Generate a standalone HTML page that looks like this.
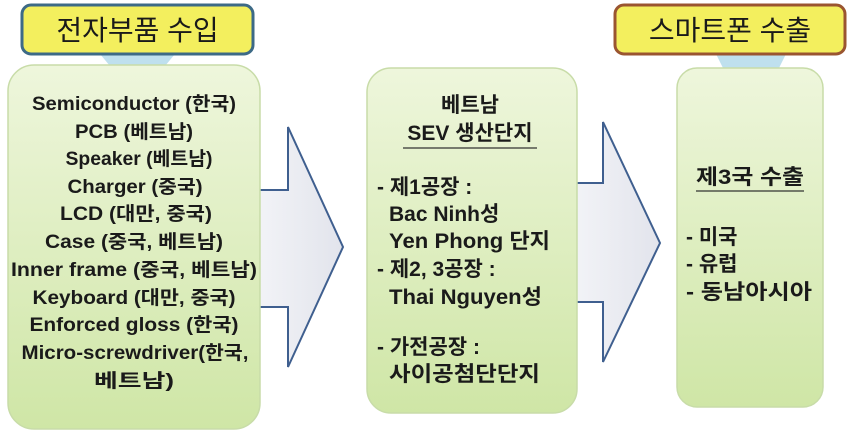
<!DOCTYPE html>
<html><head><meta charset="utf-8"><style>
html,body{margin:0;padding:0;background:#fff;width:857px;height:437px;overflow:hidden}
svg{display:block}
text{font-family:"Liberation Sans","Noto Sans CJK KR","NanumGothic",sans-serif;fill:#1a1a1a}
.b{font-weight:bold;font-size:19px}
.m{font-weight:bold;font-size:21px}
</style></head><body>
<svg width="857" height="437" viewBox="0 0 857 437">
<defs>
<linearGradient id="g" x1="0" y1="0" x2="0" y2="1">
<stop offset="0" stop-color="#eef6dc"/><stop offset="1" stop-color="#cfe6a6"/></linearGradient>
<linearGradient id="a" x1="0" y1="0" x2="1" y2="0">
<stop offset="0" stop-color="#f2f3f7"/><stop offset="1" stop-color="#e2e4ec"/></linearGradient>
</defs>
<polygon points="100,54 175,54 165,66 110,66" fill="#bfe0ee"/>
<polygon points="716,54 786,54 778,70 724,70" fill="#bfe0ee"/>
<polygon points="258,190 288,190 288,127 343,247 288,367 288,307 258,307" fill="url(#a)" stroke="#3f5f8f" stroke-width="2"/>
<polygon points="575,183 603,183 603,122 660,243 603,362 603,302 575,302" fill="url(#a)" stroke="#3f5f8f" stroke-width="2"/>
<rect x="8" y="65" width="252" height="364" rx="26" fill="url(#g)" stroke="#c8dca8" stroke-width="1.5"/>
<rect x="367" y="68" width="210" height="345" rx="24" fill="url(#g)" stroke="#c8dca8" stroke-width="1.5"/>
<rect x="677" y="68" width="146" height="339" rx="20" fill="url(#g)" stroke="#c8dca8" stroke-width="1.5"/>
<rect x="22" y="5" width="231" height="49" rx="9" fill="#f3ef5e" stroke="#3d6a86" stroke-width="3"/>
<text x="137.5" y="40" font-size="28" text-anchor="middle">전자부품 수입</text>
<rect x="615" y="5" width="230" height="49" rx="9" fill="#f3ef5e" stroke="#9a5530" stroke-width="3"/>
<text x="730" y="40" font-size="28" text-anchor="middle">스마트폰 수출</text>
<g text-anchor="middle">
<text class="b" x="134" y="110" textLength="204" lengthAdjust="spacingAndGlyphs">Semiconductor (한국)</text>
<text class="b" x="134" y="138" textLength="118" lengthAdjust="spacingAndGlyphs">PCB (베트남)</text>
<text class="b" x="139" y="165" textLength="147" lengthAdjust="spacingAndGlyphs">Speaker (베트남)</text>
<text class="b" x="135" y="193" textLength="135" lengthAdjust="spacingAndGlyphs">Charger (중국)</text>
<text class="b" x="136" y="220" textLength="152" lengthAdjust="spacingAndGlyphs">LCD (대만, 중국)</text>
<text class="b" x="134" y="248" textLength="178" lengthAdjust="spacingAndGlyphs">Case (중국, 베트남)</text>
<text class="b" x="134" y="276" textLength="246" lengthAdjust="spacingAndGlyphs">Inner frame (중국, 베트남)</text>
<text class="b" x="134" y="304" textLength="203" lengthAdjust="spacingAndGlyphs">Keyboard (대만, 중국)</text>
<text class="b" x="134" y="331" textLength="209" lengthAdjust="spacingAndGlyphs">Enforced gloss (한국)</text>
<text class="b" x="135" y="359" textLength="227" lengthAdjust="spacingAndGlyphs">Micro-screwdriver(한국,</text>
<text class="b" x="134" y="387" textLength="80" lengthAdjust="spacingAndGlyphs">베트남)</text>
</g>
<text class="m" x="470" y="112" text-anchor="middle">베트남</text>
<text class="m" x="470" y="140" text-anchor="middle">SEV 생산단지</text>
<line x1="403" y1="148" x2="537" y2="148" stroke="#333" stroke-width="1.3"/>
<text class="m" x="377" y="194">- 제1공장 :</text>
<text class="m" x="389" y="221">Bac Ninh성</text>
<text class="m" x="389" y="248" textLength="161" lengthAdjust="spacingAndGlyphs">Yen Phong 단지</text>
<text class="m" x="377" y="276">- 제2, 3공장 :</text>
<text class="m" x="389" y="304" textLength="153" lengthAdjust="spacingAndGlyphs">Thai Nguyen성</text>
<text class="m" x="377" y="354">- 가전공장 :</text>
<text class="m" x="389" y="381" textLength="151" lengthAdjust="spacingAndGlyphs">사이공첨단단지</text>
<text class="m" x="750" y="184" text-anchor="middle" textLength="108" lengthAdjust="spacingAndGlyphs">제3국 수출</text>
<line x1="696" y1="191" x2="804" y2="191" stroke="#333" stroke-width="1.3"/>
<text class="m" x="686" y="244">- 미국</text>
<text class="m" x="686" y="271">- 유럽</text>
<text class="m" x="686" y="299" textLength="126" lengthAdjust="spacingAndGlyphs">- 동남아시아</text>
</svg>
</body></html>
